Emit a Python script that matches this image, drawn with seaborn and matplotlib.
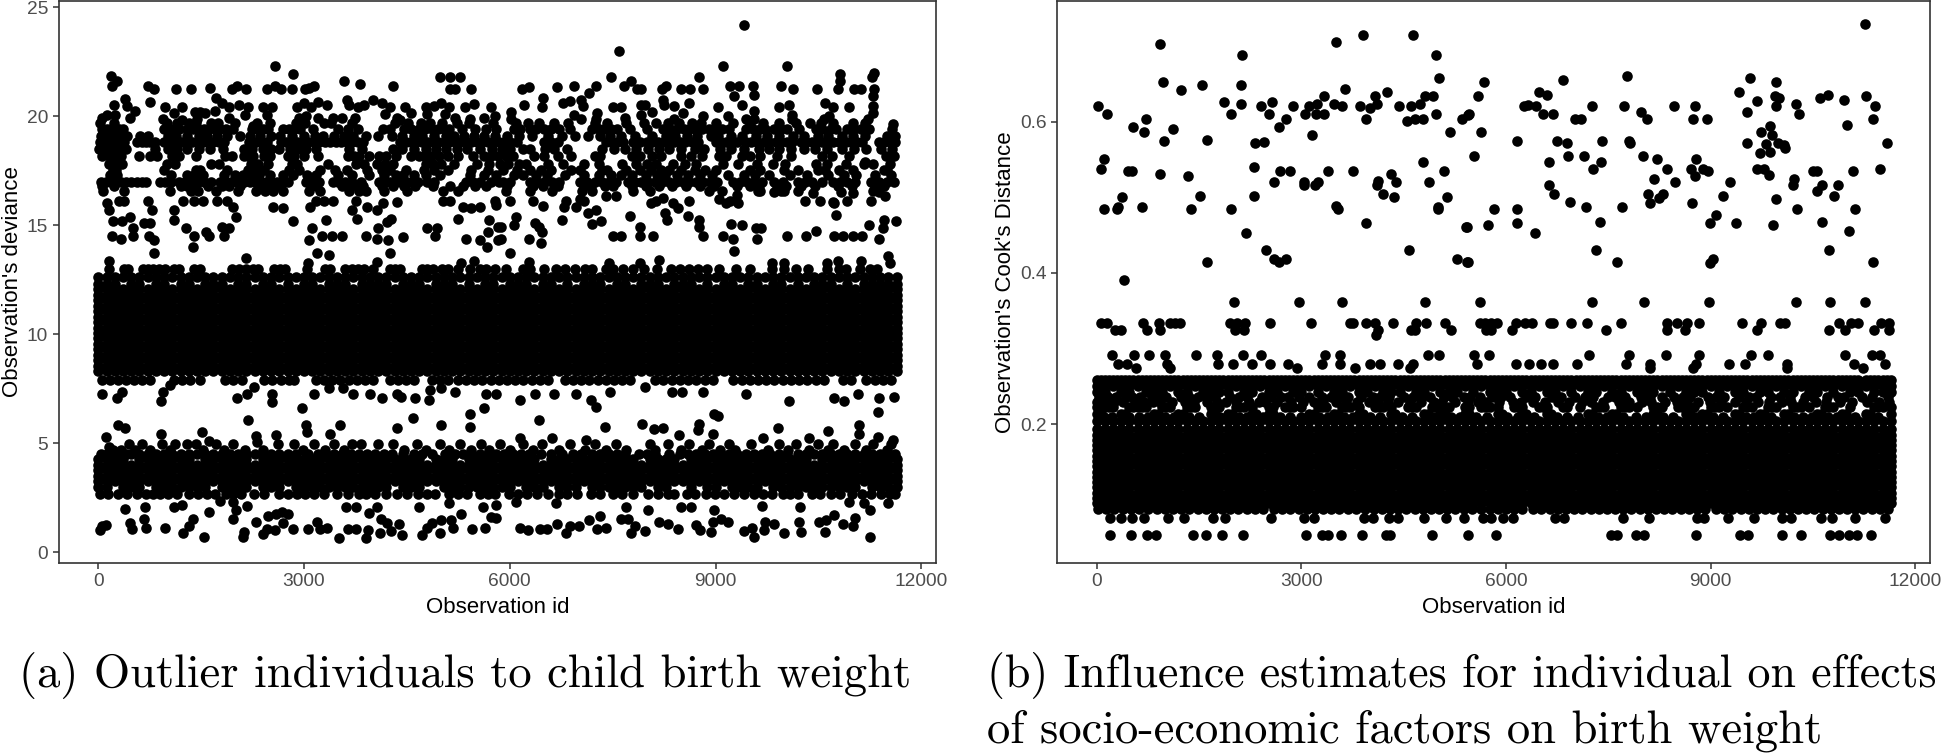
#!/usr/bin/env python3
"""Outlier and influence scatter panels for the birth weight model."""

import warnings

import matplotlib
matplotlib.use("Agg")  # non-interactive backend
import matplotlib.pyplot as plt
import pandas as pd
import seaborn as sns

warnings.filterwarnings("ignore")

# --- Shared ---------------------------------------------------------
x_ticks = [0, 3000, 6000, 9000, 12000]
dev_ticks = [0, 5, 10, 15, 20, 25]
cook_ticks = [0.2, 0.4, 0.6]

# The black bands cannot be read point by point, so they are stood in for
# by a column of ids repeated at each level that looks solid in the picture.
solid_ids = [
    0, 120, 240, 360, 480, 600, 720, 840, 960, 1080, 1200, 1320, 1440, 1560, 1680, 1800,
    1920, 2040, 2160, 2280, 2400, 2520, 2640, 2760, 2880, 3000, 3120, 3240, 3360, 3480,
    3600, 3720, 3840, 3960, 4080, 4200, 4320, 4440, 4560, 4680, 4800, 4920, 5040, 5160,
    5280, 5400, 5520, 5640, 5760, 5880, 6000, 6120, 6240, 6360, 6480, 6600, 6720, 6840,
    6960, 7080, 7200, 7320, 7440, 7560, 7680, 7800, 7920, 8040, 8160, 8280, 8400, 8520,
    8640, 8760, 8880, 9000, 9120, 9240, 9360, 9480, 9600, 9720, 9840, 9960, 10080, 10200,
    10320, 10440, 10560, 10680, 10800, 10920, 11040, 11160, 11280, 11400, 11520, 11640,
]
offset_ids = [
    60, 180, 300, 420, 540, 660, 780, 900, 1020, 1140, 1260, 1380, 1500, 1620, 1740, 1860,
    1980, 2100, 2220, 2340, 2460, 2580, 2700, 2820, 2940, 3060, 3180, 3300, 3420, 3540,
    3660, 3780, 3900, 4020, 4140, 4260, 4380, 4500, 4620, 4740, 4860, 4980, 5100, 5220,
    5340, 5460, 5580, 5700, 5820, 5940, 6060, 6180, 6300, 6420, 6540, 6660, 6780, 6900,
    7020, 7140, 7260, 7380, 7500, 7620, 7740, 7860, 7980, 8100, 8220, 8340, 8460, 8580,
    8700, 8820, 8940, 9060, 9180, 9300, 9420, 9540, 9660, 9780, 9900, 10020, 10140, 10260,
    10380, 10500, 10620, 10740, 10860, 10980, 11100, 11340, 11460, 11580,
]

# --- Panel (a): deviance --------------------------------------------
dev_solid_levels = [8.3, 8.55, 8.8, 9.05, 9.3, 9.55, 9.8, 10.05, 10.3, 10.55, 10.8, 11.05, 11.3, 11.55, 11.8, 12.05, 12.6]
dev_low_solid_levels = [3.25, 3.5, 3.75, 4.0]

dev_peaks = [
    (9421, 24.2), (7586, 23.0), (2578, 22.3), (9115, 22.3), (10042, 22.3), (2845, 21.95), (10814, 21.95),
    (11314, 22.0), (184, 21.85), (272, 21.6), (199, 21.4), (718, 21.4), (815, 21.25), (1126, 21.25),
    (1354, 21.25), (1631, 21.3), (1946, 21.25), (2029, 21.4), (2150, 21.25), (2456, 21.25), (2582, 21.4),
    (2665, 21.25), (2820, 21.25), (3014, 21.25), (3078, 21.3), (3145, 21.4), (3587, 21.6), (3815, 21.45),
    (4291, 21.4), (4990, 21.8), (5126, 21.8), (5276, 21.8), (5126, 21.25), (5199, 21.25), (5441, 21.25),
    (7469, 21.8), (8756, 21.8), (11280, 21.8), (7770, 21.6), (7659, 21.4), (7853, 21.25), (7916, 21.25),
    (8222, 21.25), (8280, 21.4), (8498, 21.25), (8630, 21.25), (8824, 21.25), (9212, 21.4), (9338, 21.4),
    (9542, 21.4), (9566, 20.95), (9275, 20.9), (9955, 21.4), (10125, 21.25), (10474, 21.25), (10780, 21.25),
    (10814, 21.6), (11022, 21.25), (11120, 21.25), (11314, 21.25), (6183, 21.25), (6280, 21.35), (6688, 21.35),
    (6935, 21.4), (7251, 21.4), (7154, 21.05), (7042, 20.75),
]
dev_upper = [
    (383, 20.8), (233, 20.5), (417, 20.45), (529, 20.25), (466, 19.9), (248, 20.05), (126, 20.05), (58, 19.9),
    (757, 20.65), (976, 20.4), (1097, 20.15), (1218, 20.4), (942, 19.85), (1218, 19.8), (1485, 20.2),
    (1413, 20.2), (1558, 20.15), (1437, 19.85), (1718, 20.85), (1801, 20.6), (1704, 20.25), (1912, 20.4),
    (1912, 19.9), (2058, 20.5), (2189, 20.4), (2141, 20.05), (2408, 20.4), (2539, 20.4), (2456, 20.05),
    (2262, 19.55), (2900, 20.4), (3000, 20.6), (3100, 20.4), (3200, 20.65), (3330, 20.5), (3030, 20.0),
    (2920, 19.9), (3200, 19.9), (3420, 19.9), (3550, 19.9), (3660, 20.5), (3780, 20.4), (3620, 20.75),
    (3750, 19.9), (3880, 20.5), (4000, 20.75), (4130, 20.6), (4250, 20.4), (4180, 20.1), (4350, 19.9),
    (4470, 20.4), (4560, 20.15), (4400, 19.8), (4780, 20.4), (4900, 20.45), (4800, 20.1), (5000, 20.6),
    (5120, 20.4), (5050, 20.1), (5200, 19.9), (5350, 20.4), (5420, 19.85), (5480, 20.55), (5620, 19.9),
    (5730, 20.4), (5790, 20.0), (6202, 20.5), (6489, 20.85), (6474, 20.4), (6023, 20.2), (6023, 19.85),
    (6775, 20.6), (6882, 20.7), (7067, 20.45), (6935, 20.05), (7042, 19.85), (7275, 20.15), (7261, 19.85),
    (7503, 20.4), (7625, 20.4), (7916, 20.5), (7974, 20.5), (8071, 20.2), (7916, 20.05), (7673, 19.9),
    (8241, 20.75), (8256, 20.5), (8401, 20.45), (8620, 20.6), (8523, 20.15), (8401, 19.85), (8814, 20.0),
    (9033, 20.4), (9178, 20.0), (9382, 20.5), (9566, 20.25), (9445, 19.85), (9566, 19.85), (10076, 20.5),
    (9921, 20.4), (10115, 20.05), (10115, 19.85), (10600, 20.6), (10707, 20.4), (10950, 20.4), (10658, 20.0),
    (10585, 19.85), (11290, 20.9), (11290, 20.45), (11290, 20.15), (11226, 19.85), (11590, 19.65),
]
dev_mid_sparse = [
    (160, 13.35), (806, 13.7), (2150, 13.5), (1378, 14.0), (3194, 13.7), (3369, 13.65), (4252, 13.7),
    (4068, 13.3), (5669, 14.0), (3063, 13.25), (5296, 13.25), (5475, 13.35), (199, 14.5), (330, 14.35),
    (500, 14.5), (733, 14.5), (806, 14.3), (1398, 14.5), (1621, 14.5), (1840, 14.5), (3078, 14.3), (3257, 14.5),
    (3403, 14.5), (3558, 14.5), (3898, 14.5), (4058, 14.35), (4218, 14.3), (4436, 14.45), (4907, 14.5),
    (5368, 14.35), (5568, 14.3), (5830, 14.3), (505, 14.85), (1277, 14.85), (1568, 14.7), (1801, 14.9),
    (1908, 14.85), (3112, 14.85), (4073, 14.85), (4796, 14.85), (4932, 14.85), (5684, 14.7), (5830, 14.9),
    (214, 15.2), (345, 15.2), (456, 15.38), (660, 15.1), (757, 15.1), (1107, 15.25), (2005, 15.38), (2835, 15.2),
    (3315, 15.25), (3767, 15.3), (4204, 15.15), (4262, 15.3), (5247, 15.3), (5694, 15.25), (126, 16.0),
    (160, 15.7), (296, 16.1), (781, 15.7), (1097, 15.7), (1971, 15.85), (2553, 15.85), (2699, 15.8), (3087, 15.85),
    (3694, 15.7), (3912, 15.85), (4058, 15.7), (5320, 15.85), (5441, 15.8), (5563, 15.85), (4349, 16.07),
    (4155, 16.0), (5805, 15.9), (6484, 15.87), (6785, 15.85), (6960, 15.85), (6761, 15.25), (6086, 15.35),
    (6057, 15.0), (6363, 15.1), (6426, 14.9), (6474, 14.7), (6280, 14.35), (6460, 14.2), (5999, 13.7), (6275, 13.3),
    (5877, 14.9), (5877, 14.35), (7139, 15.55), (7261, 15.7), (7333, 15.2), (7202, 15.05), (7756, 15.4),
    (7906, 14.9), (7503, 14.5), (7625, 14.5), (7892, 14.5), (8086, 14.5), (8265, 15.55), (8295, 15.25),
    (8595, 15.4), (8766, 15.25), (8766, 14.9), (8824, 14.5), (9115, 14.5), (9261, 14.35), (9227, 15.05),
    (9387, 15.0), (9265, 13.8), (9591, 14.85), (9663, 14.85), (9600, 14.35), (10042, 14.5), (10319, 14.5),
    (10464, 14.75), (10756, 15.45), (10722, 16.0), (10731, 14.5), (10853, 14.5), (10998, 14.5), (11134, 14.5),
    (11231, 15.0), (11435, 14.85), (11459, 15.25), (11629, 15.2), (11377, 14.35), (11508, 13.6), (11542, 13.25),
    (8183, 13.4), (7892, 13.25), (7445, 13.25), (9819, 13.25), (10003, 13.25), (10620, 13.25), (11120, 13.35),
    (10780, 13.35), (8062, 16.0), (8231, 16.25), (8377, 16.0), (8450, 15.8), (9057, 16.2), (9154, 16.0),
    (9324, 16.0), (9309, 16.4), (7406, 16.35), (7552, 16.35), (7024, 16.2), (9858, 16.5), (9955, 16.55),
    (10416, 16.45), (10707, 16.05), (10829, 16.5), (10998, 16.45), (11387, 16.5), (11474, 16.35), (9615, 16.55),
    (11178, 17.9),
]
dev_gap = [
    (53, 7.23), (272, 7.05), (345, 7.36), (913, 6.93), (937, 7.36), (1048, 7.66), (2019, 7.05), (2165, 7.23),
    (2272, 7.59), (2539, 7.23), (2539, 6.9), (2966, 6.62), (3145, 7.23), (3364, 7.51), (3573, 7.51), (3718, 7.23),
    (3961, 7.23), (4140, 7.05), (4349, 7.23), (4412, 7.1), (4616, 7.05), (4820, 6.97), (4834, 7.43), (5004, 7.51),
    (5208, 7.36), (5660, 7.23), (5805, 7.23), (5621, 6.62), (5417, 6.33), (5427, 5.75), (4582, 6.13), (4359, 5.7),
    (4995, 5.83), (2179, 6.06), (286, 5.83), (393, 5.7), (3524, 5.83), (3029, 5.83), (2592, 5.37), (3378, 5.4),
    (3039, 5.49), (2301, 5.34), (2311, 5.06), (1510, 5.49), (918, 5.41), (117, 5.26), (155, 4.8), (1621, 5.11),
    (6144, 6.97), (6363, 7.23), (6644, 7.23), (6960, 7.23), (7188, 6.97), (7261, 6.64), (7465, 7.36), (7979, 7.59),
    (8362, 7.36), (8513, 7.36), (8824, 7.36), (9445, 7.23), (10076, 6.93), (10722, 7.05), (10877, 6.93),
    (11071, 7.23), (11387, 7.05), (11605, 7.13), (11362, 6.44), (6421, 6.06), (7382, 5.75), (7926, 5.86),
    (8984, 6.33), (9032, 6.24), (8756, 5.86), (8110, 5.63), (8231, 5.71), (9906, 5.71), (10634, 5.55),
    (11095, 5.83), (11086, 5.41), (11362, 5.29), (11590, 5.14), (9688, 5.22), (6154, 5.22), (6620, 5.25),
    (7105, 5.14), (8474, 5.37), (10367, 5.25), (8960, 5.41), (8741, 5.6),
]
dev_bottom = [
    (393, 2.0), (684, 2.08), (1097, 2.08), (1218, 2.16), (1777, 2.36), (1971, 2.31), (2010, 1.93), (1971, 1.52),
    (2165, 2.13), (1621, 1.85), (1388, 1.52), (1330, 1.2), (1233, 0.86), (1544, 0.7), (660, 1.52), (699, 1.12),
    (456, 1.32), (490, 1.06), (976, 1.12), (19, 1.01), (53, 1.2), (117, 1.24), (2131, 0.9), (2116, 0.7), (2301, 1.36),
    (2471, 1.67), (2592, 1.75), (2684, 1.85), (2772, 1.75), (2689, 1.32), (2408, 0.81), (2456, 1.04), (2577, 1.0),
    (2835, 1.06), (3063, 1.06), (3184, 1.36), (3233, 1.04), (3330, 1.09), (3510, 0.63), (3636, 1.06), (3757, 1.06),
    (3903, 0.63), (3937, 1.0), (4106, 0.86), (3607, 2.08), (3752, 2.08), (3946, 1.78), (4058, 2.08), (4121, 1.52),
    (4204, 1.32), (4262, 0.98), (4383, 1.29), (4432, 0.78), (4679, 2.08), (4723, 0.78), (4786, 1.09), (4873, 1.35),
    (5004, 1.47), (5136, 1.47), (4980, 0.89), (5174, 1.09), (5296, 1.75), (5111, 2.24), (5456, 1.06), (5635, 1.09),
    (5733, 1.59), (5805, 1.55), (5611, 2.08), (5805, 2.16), (6154, 1.12), (6266, 1.0), (6435, 1.04), (6547, 1.06),
    (6693, 1.27), (6824, 0.86), (6882, 1.2), (7008, 1.2), (7154, 1.47), (7309, 1.67), (7270, 1.04), (7406, 1.12),
    (7625, 1.52), (7722, 1.52), (7770, 0.86), (7819, 1.2), (7979, 0.98), (8173, 1.36), (8304, 1.27), (8450, 1.04),
    (8717, 1.24), (8780, 1.0), (8935, 0.93), (8960, 1.36), (9081, 1.52), (9178, 1.39), (9421, 0.98), (9532, 1.09),
    (9566, 0.7), (9712, 1.0), (9722, 1.39), (9858, 1.27), (10003, 0.86), (10222, 1.39), (10246, 0.93), (10513, 1.36),
    (10610, 1.47), (10600, 0.9), (10722, 1.7), (10853, 1.27), (10998, 1.21), (11032, 1.58), (11255, 0.7),
    (7688, 2.08), (8013, 1.93), (8498, 2.08), (8644, 2.08), (8974, 1.93), (9673, 2.11), (10236, 2.08), (11255, 1.93),
    (11168, 2.24), (11508, 2.24), (10950, 2.31), (6678, 2.24), (6086, 2.28),
]

# deviance takes near-discrete values, so the busy rows are kept by level
dev_row_197 = [
    30, 230, 1000, 1150, 1330, 1420, 1640, 1750, 2000, 2310, 2510, 2880, 3010, 3290, 3400, 3700, 4320, 4520, 4700, 4830,
    5010, 5230, 5400, 5760, 6090, 6260, 6420, 6640, 6850, 7240, 7420, 7690, 7960, 8130, 8300, 8470, 8660, 8790, 9000,
    9250, 9510, 9690, 9930, 10180, 10380, 10540, 10720, 11000, 11180,
]
dev_row_194 = [
    60, 120, 180, 240, 300, 360, 960, 1040, 1100, 1180, 1300, 1380, 1460, 1540, 1620, 1700, 1780, 1860, 1960, 2240,
    2320, 2400, 2480, 2700, 2780, 2860, 2940, 3130, 3500, 3640, 3780, 4150, 4250, 4460, 4560, 4680, 4760, 4860, 4950,
    5040, 5120, 5300, 5500, 5650, 5800, 6060, 6150, 6300, 6380, 6500, 6600, 6720, 6880, 7200, 7300, 7380, 7480, 7560,
    7750, 8000, 8240, 8340, 8440, 8540, 8620, 8700, 8800, 8900, 9000, 9100, 9200, 9450, 9550, 9650, 9720, 9860, 9960,
    10040, 10220, 10470, 10560, 10680, 10760, 10920, 11020, 11120, 11240, 11580,
]
dev_row_191 = [
    40, 150, 290, 420, 610, 730, 1010, 1130, 1290, 1470, 1590, 1730, 1880, 2060, 2210, 2360, 2520, 2650, 2830, 3000, 3160,
    3280, 3440, 3580, 3720, 3900, 4080, 4290, 4430, 4600, 4720, 4900, 5070, 5190, 5330, 5480, 5620, 5780, 5960, 6130, 6320,
    6560, 6760, 6950, 7140, 7310, 7460, 7620, 7830, 8070, 8280, 8410, 8590, 8730, 8930, 9040, 9230, 9390, 9590, 9750, 9930,
    10130, 10290, 10500, 10640, 10850, 11000, 11180, 11500, 11610,
]
dev_row_188 = [
    20, 70, 120, 180, 260, 330, 380, 560, 640, 700, 760, 820, 960, 1040, 1120, 1200, 1280, 1360, 1440, 1520, 1600, 1680,
    1760, 1840, 2200, 2300, 2380, 2460, 2660, 2740, 2820, 2900, 2980, 3060, 3140, 3220, 3300, 3380, 3460, 3540, 3620,
    3700, 3780, 3860, 4400, 4480, 4560, 4640, 4720, 4800, 4880, 4960, 5040, 5120, 5200, 5280, 5360, 5440, 5520, 5600,
    5680, 5760, 5840, 5920, 6000, 6100, 6500, 6600, 6700, 7400, 7480, 7560, 7650, 7800, 7900, 8000, 8080, 8160, 8240,
    8320, 8400, 8480, 8560, 8660, 8740, 9000, 9080, 9160, 9240, 9320, 9440, 9520, 9600, 9700, 9780, 9880, 9960, 10040,
    10120, 10240, 10320, 10400, 10480, 10560, 10640, 10720, 10800, 10900, 10980, 11060, 11140, 11380, 11460, 11540, 11620,
]
dev_row_185 = [
    10, 90, 210, 310, 400, 830, 1020, 1150, 1300, 1470, 1630, 1820, 2130, 2240, 2400, 2520, 2640, 2790, 2910, 3030, 3180, 3650,
    3850, 4300, 4430, 4600, 4780, 4920, 5070, 5230, 5380, 5570, 5740, 5880, 6010, 6200, 6300, 6520, 6650, 6830, 7350, 7520,
    7680, 7840, 8010, 8170, 8320, 8500, 8700, 8830, 9060, 9220, 9410, 9630, 9780, 9930, 10100, 10290, 10450, 10620, 10840,
    11020, 11200, 11420, 11570,
]
dev_row_182 = [
    50, 150, 250, 330, 600, 750, 850, 1080, 1180, 1420, 1850, 1950, 2120, 2180, 2260, 2420, 2500, 2760, 2860, 3000, 3200,
    3640, 3730, 3800, 3950, 4100, 4200, 4340, 4560, 4680, 4750, 4850, 4970, 5100, 5250, 5460, 5620, 5720, 5830, 5940,
    6040, 6350, 6500, 6700, 6900, 7250, 7320, 7780, 7900, 8080, 8200, 8500, 8640, 8800, 9050, 9150, 9380, 9500, 9650,
    9900, 10100, 10560, 10700, 10950, 11480, 11600,
]
dev_row_178 = [
    150, 260, 350, 1000, 1120, 1640, 1760, 2230, 2330, 2470, 2820, 2900, 3350, 3760, 3880, 4060, 4180, 4300, 4780, 4880, 5000,
    5180, 5520, 5700, 5860, 5980, 6140, 6240, 6560, 6780, 7080, 7300, 7640, 7840, 8000, 8130, 8380, 8560, 8720, 9110, 9330,
    9600, 9840, 10020, 10460, 10620, 10900, 11170, 11300, 11540,
]
dev_row_175 = [
    220, 260, 960, 1430, 1480, 1880, 2180, 2280, 2420, 2780, 2920, 3240, 3450, 3620, 3920, 4130, 4260, 4480, 4750, 4900,
    5100, 5440, 5680, 5900, 6100, 6300, 6450, 6600, 6900, 7020, 7350, 7420, 7700, 7900, 8060, 8200, 8320, 8500, 8700,
    8850, 9000, 9500, 9650, 10000, 10200, 10500, 10600, 10800, 11000, 11450, 11500,
]
dev_row_173 = [
    170, 270, 1060, 1290, 1400, 1520, 1830, 1990, 2110, 2240, 2350, 2500, 2700, 2840, 3040, 3170, 3500, 3700, 3950, 4160, 4340,
    4450, 4600, 4780, 4980, 5420, 5620, 5800, 6060, 6200, 6380, 6540, 6800, 7080, 7300, 7480, 7620, 7780, 7980, 8140, 8260,
    8440, 8600, 8780, 8950, 9180, 9420, 9580, 9780, 10080, 10340, 10640, 10870, 11050, 11330, 11560,
]
dev_row_170 = [
    40, 110, 180, 260, 330, 410, 480, 560, 640, 700, 900, 980, 1060, 1180, 1260, 1340, 1460, 1540, 1640, 1780, 1860, 1940,
    2020, 2130, 2210, 2290, 2370, 2450, 2530, 2610, 2690, 2770, 3030, 3130, 3220, 3420, 3500, 3600, 3700, 3830, 4100, 4180,
    4260, 4340, 4420, 4500, 4580, 4660, 4800, 4900, 5360, 5460, 5560, 5720, 5840, 5900, 6000, 6290, 6400, 6500, 6620, 6720,
    7020, 7120, 7240, 7340, 7450, 7550, 7720, 7820, 7920, 8020, 8120, 8220, 8320, 8420, 8520, 8620, 8720, 8820, 8920, 9020,
    9260, 9360, 9460, 9560, 9680, 9860, 9980, 10200, 10300, 10400, 10560, 10720, 10820, 10920, 11040, 11260, 11380, 11500, 11600,
]
dev_row_168 = [
    60, 230, 1200, 1290, 1400, 1600, 1810, 1900, 2070, 2340, 2480, 2640, 3100, 3180, 3560, 3640, 3770, 3860, 4140, 4300, 4460,
    4620, 4880, 5130, 5320, 5500, 5660, 5960, 6340, 6480, 6700, 7080, 7180, 7390, 7500, 7780, 7980, 8180, 8370, 8570, 8780,
    8980, 9310, 9510, 9630, 9900, 10030, 10250, 10450, 10780, 10990, 11320, 11450,
]
dev_row_165 = [
    70, 380, 1050, 1350, 1450, 1720, 2040, 2300, 2430, 2550, 2700, 3070, 3240, 3650, 3800, 3900, 4160, 4500, 5020, 5250,
    5950, 6300, 6620, 7050, 7200, 7800, 8050, 8900, 9100, 9650, 10000, 10200, 11300,
]
dev_row_161 = [
    380, 730, 1230, 1400, 1520, 1730, 1880, 3170, 3290, 3420, 3760, 5020, 5130, 5790, 6000, 6340, 6820, 7080, 8130, 8620, 9210,
    10300, 10530, 10920, 11260,
]
dev_row_130 = [
    160, 370, 430, 650, 720, 800, 880, 980, 1100, 1180, 1400, 1480, 1950, 2050, 2150, 2250, 2330, 2560, 2650, 2720, 3050,
    3300, 3380, 3600, 3700, 3780, 3880, 4000, 4250, 4320, 4400, 4720, 4800, 4880, 5010, 5100, 5250, 5420, 5560, 5650, 5780,
    5950, 6200, 6300, 6500, 6680, 6800, 6950, 7100, 7200, 7400, 7500, 7650, 7800, 7950, 8150, 8350, 8480, 8620, 8750, 8880,
    9050, 9300, 9500, 9820, 10000, 10180, 10350, 10620, 10800, 10900, 11100, 11250, 11350,
]
dev_row_123 = [
    0, 120, 240, 480, 600, 840, 960, 1200, 1320, 1560, 1680, 1800, 2040, 2160, 2400, 2520, 2760, 3000, 3120, 3360, 3480,
    3600, 3840, 3960, 4080, 4200, 4440, 4560, 4680, 4920, 5040, 5160, 5400, 5640, 5760, 6000, 6120, 6240, 6480, 6600, 6840,
    7080, 7200, 7320, 7560, 7680, 7920, 8040, 8160, 8400, 8520, 8640, 8880, 9120, 9240, 9480, 9600, 9840, 9960, 10200, 10440,
    10560, 10680, 10920, 11160, 11280, 11400, 11520, 11640,
]
dev_row_79 = [
    50, 170, 290, 410, 520, 640, 760, 1100, 1220, 1340, 1480, 1850, 1970, 2090, 2420, 2540, 2660, 2780, 2860, 3170, 3290,
    3410, 3530, 3650, 3770, 3890, 4010, 4250, 4370, 4490, 4610, 4860, 4980, 5100, 5240, 5360, 5480, 5600, 5720, 5840, 5960,
    6080, 6200, 6320, 6440, 6560, 6800, 6920, 7040, 7160, 7280, 7400, 7520, 7640, 7760, 8120, 8240, 8360, 8480, 8600, 8720,
    8840, 8960, 9260, 9380, 9500, 9620, 9740, 9860, 9980, 10100, 10220, 10340, 10460, 10580, 10860, 10980, 11200, 11320, 11440, 11560,
]
dev_row_495 = [
    450, 640, 930, 1120, 1290, 1420, 1720, 1960, 2620, 2860, 3150, 3440, 3700, 3830, 4080, 4300, 4650, 4980, 5280, 5580, 5860,
    6200, 6470, 6880, 7240, 7550, 8050, 8300, 8620, 8900, 9200, 9520, 9920, 10180, 10500, 10720, 11030, 11300, 11560,
]
dev_row_470 = [
    210, 330, 530, 760, 1040, 1530, 1840, 2140, 2400, 2980, 3300, 3580, 4460, 4780, 5120, 5440, 5700, 6010, 6340, 6720, 7100,
    7400, 7700, 8120, 8490, 8800, 9070, 9290, 9770, 10050, 10360, 10640, 10870, 11200, 11500,
]
dev_row_450 = [
    40, 120, 200, 300, 400, 480, 600, 720, 840, 960, 1080, 1200, 1320, 1440, 1560, 1680, 1800, 1920, 2040, 2160, 2280,
    2400, 2520, 2640, 2760, 2880, 3060, 3200, 3320, 3440, 3560, 3680, 3800, 3920, 4040, 4160, 4280, 4440, 4600, 4720, 4860,
    5050, 5200, 5320, 5440, 5560, 5680, 5800, 5920, 6040, 6160, 6280, 6460, 6600, 6760, 6920, 7040, 7200, 7320, 7440, 7560,
    7680, 7880, 8000, 8120, 8320, 8480, 8600, 8720, 8840, 8960, 9080, 9200, 9320, 9440, 9560, 9680, 9800, 9920, 10040, 10200,
    10320, 10440, 10560, 10680, 10800, 10920, 11040, 11160, 11280, 11400, 11520, 11620,
]
dev_row_425 = [
    0, 120, 240, 360, 600, 720, 840, 960, 1080, 1200, 1320, 1560, 1680, 1800, 1920, 2040, 2160, 2400, 2520, 2640, 2760, 2880,
    3000, 3120, 3240, 3360, 3480, 3600, 3720, 3840, 3960, 4080, 4200, 4320, 4440, 4560, 4680, 4920, 5040, 5160, 5400, 5520,
    5640, 5760, 5880, 6000, 6120, 6240, 6360, 6600, 6720, 6840, 6960, 7080, 7200, 7320, 7440, 7560, 7680, 7800, 8040, 8160,
    8280, 8400, 8640, 8760, 8880, 9000, 9120, 9240, 9360, 9480, 9600, 9720, 9840, 9960, 10080, 10200, 10320, 10560, 10680,
    10800, 10920, 11040, 11160, 11280, 11400, 11520, 11640,
]
dev_row_300 = [
    0, 120, 360, 480, 600, 840, 960, 1080, 1200, 1320, 1440, 1560, 1800, 1920, 2040, 2160, 2400, 2520, 2640, 2880, 3000, 3120,
    3240, 3360, 3480, 3600, 3720, 3840, 3960, 4080, 4200, 4440, 4560, 4680, 5040, 5160, 5280, 5400, 5520, 5640, 5760, 5880,
    6000, 6240, 6360, 6480, 6720, 6840, 6960, 7200, 7320, 7440, 7560, 7680, 7800, 7920, 8160, 8280, 8640, 8880, 9000, 9240,
    9360, 9480, 9600, 9840, 9960, 10080, 10200, 10320, 10440, 10560, 10680, 10800, 10920, 11040, 11280, 11400, 11520, 11640,
]
dev_row_265 = [
    20, 140, 290, 420, 560, 700, 800, 900, 1010, 1150, 1330, 1450, 1580, 1700, 1860, 1960, 2080, 2270, 2420, 2640, 2760, 2900,
    3020, 3150, 3290, 3480, 3640, 3800, 3900, 4030, 4190, 4350, 4500, 4660, 4790, 4910, 5110, 5250, 5370, 5560, 5680, 5780,
    5990, 6120, 6250, 6400, 6560, 6720, 6840, 6980, 7190, 7310, 7500, 7640, 7790, 8020, 8160, 8300, 8400, 8590, 8700, 8860,
    8990, 9130, 9270, 9420, 9560, 9690, 9830, 9990, 10090, 10200, 10400, 10530, 10680, 10820, 10990, 11130, 11270, 11420, 11540, 11620,
]

# --- Panel (b): Cook's distance -------------------------------------
cook_solid_levels = [0.095, 0.102, 0.109, 0.116, 0.123, 0.13, 0.137, 0.144, 0.151, 0.158, 0.165, 0.172, 0.179, 0.186, 0.193, 0.204, 0.250, 0.258]

cook_upper = [
    (25, .621), (157, .610), (113, .551), (59, .538), (465, .535), (513, .535), (528, .593), (718, .604), (699, .586),
    (377, .500), (308, .487), (294, .485), (108, .485), (660, .487), (401, .390), (928, .703), (972, .653), (1236, .642),
    (1544, .649), (1114, .591), (982, .575), (924, .531), (1339, .528), (1509, .502), (1387, .485), (1617, .576), (1622, .415),
    (2135, .688), (2120, .649), (2120, .623), (1861, .626), (1968, .610), (1968, .485), (2305, .540), (2305, .502), (2183, .453),
    (2325, .572), (2452, .574), (2408, .621), (2525, .610), (2569, .626), (2681, .593), (2769, .604), (2877, .621), (2598, .521),
    (2686, .535), (2838, .535), (2481, .430), (2598, .418), (2681, .415), (2774, .418), (3057, .610), (3111, .621), (3233, .623),
    (3326, .634), (3209, .610), (3326, .610), (3155, .582), (3038, .521), (3038, .516), (3199, .516), (3238, .521), (3385, .535),
    (3477, .624), (3604, .621), (3507, .706), (3639, .643), (3902, .715), (3868, .621), (3946, .604), (4005, .619), (4112, .624),
    (4083, .634), (4263, .639), (4434, .621), (3751, .535), (3507, .488), (3536, .485), (3946, .466), (4132, .522), (4112, .516),
    (4200, .505), (4317, .531), (4385, .521), (4366, .500), (4635, .715), (4981, .689), (5015, .658), (4932, .634), (4810, .634),
    (4737, .623), (4615, .621), (4557, .601), (4664, .604), (4786, .604), (4981, .610), (5181, .587), (5352, .604), (5445, .609),
    (4786, .547), (5089, .535), (4879, .521), (5132, .500), (5006, .487), (5006, .484), (4586, .430), (5421, .461), (5289, .418),
    (5431, .415), (11261, .729), (6837, .656), (7770, .661), (9572, .658), (9953, .653), (5675, .653), (5597, .634), (6491, .639),
    (6608, .636), (6261, .621), (6325, .622), (6437, .621), (6545, .610), (6696, .610), (7008, .604), (7106, .604), (7267, .621),
    (7731, .621), (7985, .613), (8068, .604), (8459, .621), (8766, .621), (8747, .604), (8952, .604), (9416, .639), (9679, .628),
    (9938, .634), (10002, .632), (9963, .621), (9528, .613), (10251, .623), (10300, .610), (10607, .632), (10719, .635), (10954, .629),
    (11276, .634), (11403, .621), (11384, .604), (10998, .596), (11589, .572), (11481, .538), (5460, .610), (5631, .587), (6164, .575),
    (5539, .555), (6754, .575), (6896, .572), (6906, .555), (6628, .547), (7145, .555), (7409, .575), (7394, .547), (7277, .537),
    (7799, .575), (7814, .572), (8009, .555), (8219, .551), (8361, .538), (8175, .524), (8478, .521), (8781, .551), (8717, .538),
    (8893, .538), (8966, .535), (8766, .528), (9289, .521), (9181, .502), (9733, .587), (9875, .594), (9894, .582), (9816, .571),
    (9987, .572), (10075, .570), (10094, .566), (9528, .572), (9728, .559), (9870, .560), (9684, .538), (9777, .538), (9850, .529),
    (10217, .525), (10212, .516), (10500, .535), (10564, .535), (11090, .535), (10637, .517), (10564, .509), (10871, .516), (10812, .502),
    (9958, .498), (10265, .485), (11110, .485), (6628, .516), (6701, .505), (6945, .494), (7170, .487), (7707, .487), (7384, .468),
    (8083, .505), (8307, .505), (8244, .499), (8117, .493), (8727, .493), (5832, .485), (6159, .485), (6164, .466), (5734, .464),
    (5436, .461), (6422, .453), (9079, .477), (8996, .466), (9367, .466), (9919, .464), (10631, .468), (11032, .456), (7316, .430),
    (10729, .430), (7629, .415), (5441, .415), (9035, .418), (8991, .413), (11374, .415), (4092, .318),
]

cook_row_362 = [2007, 2965, 3604, 4820, 5622, 7262, 8019, 8976, 10246, 10749, 11261]
cook_row_334 = [
    64, 147, 684, 919, 1075, 1148, 1221, 1954, 2052, 2174, 2540, 3150, 3712, 3761, 3956, 4078, 4351, 4688, 4830, 5113,
    5617, 5690, 5788, 5871, 6154, 6286, 6383, 6642, 6691, 6960, 7194, 7687, 8366, 8508, 8659, 8835, 9455, 9738, 10011,
    10085, 10876, 11061, 11159, 11501, 11608,
]
cook_row_325 = [
    269, 352, 733, 933, 2027, 2159, 4127, 4615, 4664, 5201, 5714, 5788, 6090, 7463, 8366, 8629, 9679, 10729, 10964, 11393, 11613,
]
cook_row_291 = [
    222, 552, 775, 998, 1453, 1765, 2140, 2407, 3344, 3567, 4860, 5021, 5530, 5752, 7224, 7804, 8339, 8830, 9589, 9838,
    10970, 11372, 11479,
]
cook_row_280 = [
    310, 445, 1025, 1783, 2006, 2274, 2541, 2809, 3299, 3567, 4013, 4147, 4414, 4637, 5574, 6154, 6332, 6511, 6689, 7046,
    7759, 8116, 8785, 9276, 9499, 10123, 11105, 11551,
]
cook_row_274 = [579, 1069, 2943, 3791, 4593, 8116, 8740, 10123, 11238]
cook_row_242 = [
    0, 120, 360, 480, 720, 840, 960, 1200, 1320, 1560, 1680, 1800, 1920, 2160, 2280, 2520, 2640, 2880, 3000, 3240, 3480,
    3600, 3840, 3960, 4200, 4320, 4440, 4680, 4800, 5040, 5160, 5280, 5520, 5760, 5880, 6000, 6240, 6360, 6600, 6720,
    6960, 7200, 7320, 7560, 7680, 7920, 8040, 8160, 8400, 8640, 8760, 8880, 9120, 9360, 9480, 9720, 9840, 10080, 10200,
    10440, 10560, 10800, 11040, 11160, 11400, 11520, 11640,
]
cook_row_236 = [
    40, 170, 290, 430, 520, 640, 810, 900, 1020, 1240, 1360, 1490, 1600, 1730, 1960, 2090, 2210, 2420, 2560, 2700, 2810, 2960,
    3120, 3300, 3440, 3570, 3690, 3880, 4050, 4150, 4290, 4510, 4640, 4770, 4890, 5090, 5210, 5380, 5480, 5620, 5800, 5930,
    6060, 6290, 6420, 6680, 6800, 7010, 7160, 7280, 7490, 7600, 7740, 7980, 8110, 8290, 8460, 8590, 8700, 8960, 9080, 9200,
    9410, 9560, 9660, 9890, 10020, 10160, 10380, 10500, 10700, 10860, 10960, 11220, 11360, 11600,
]
cook_row_229 = [
    10, 130, 260, 390, 560, 700, 830, 930, 1110, 1290, 1430, 1620, 1770, 1900, 2050, 2240, 2380, 2470, 2650, 2850, 3030, 3190,
    3320, 3510, 3650, 3810, 3990, 4130, 4270, 4420, 4590, 4750, 4940, 5060, 5250, 5440, 5590, 5710, 5900, 6110, 6220, 6390,
    6570, 6760, 6920, 7110, 7240, 7420, 7650, 7800, 7990, 8130, 8330, 8510, 8660, 8820, 8990, 9150, 9350, 9520, 9690, 9850,
    10040, 10180, 10350, 10540, 10690, 10890, 11070, 11290, 11470, 11620,
]
cook_row_222 = [
    0, 60, 120, 180, 240, 480, 540, 600, 660, 720, 960, 1020, 1080, 1320, 1380, 1440, 1680, 1740, 1800, 2040, 2100, 2160, 2280,
    2520, 2580, 2760, 2820, 2880, 3000, 3240, 3300, 3360, 3600, 3660, 3720, 3840, 4080, 4140, 4200, 4320, 4560, 4620, 4680, 4920,
    4980, 5040, 5160, 5400, 5460, 5640, 5700, 5760, 5880, 6120, 6180, 6240, 6480, 6540, 6600, 6840, 6900, 7080, 7320, 7380, 7440,
    7680, 7740, 7800, 7920, 8160, 8220, 8280, 8520, 8580, 8640, 8760, 9000, 9060, 9120, 9240, 9480, 9540, 9600, 9840, 9900, 9960,
    10200, 10260, 10320, 10440, 10680, 10740, 10800, 11040, 11400, 11460, 11520, 11640,
]
cook_row_213 = [
    0, 60, 360, 420, 840, 900, 1200, 1260, 1680, 1740, 1920, 1980, 2280, 2340, 2520, 2580, 3120, 3180, 3480, 3540, 3840, 3900, 4320,
    4380, 4800, 4860, 5040, 5100, 5400, 5460, 5880, 5940, 6240, 6300, 6600, 6660, 7200, 7260, 7560, 7620, 8160, 8220, 8640, 8700,
    8880, 8940, 9360, 9420, 9720, 9780, 10080, 10140, 10560, 10620, 10920, 10980, 11280, 11340, 11640,
]
cook_row_209 = [
    110, 230, 480, 620, 760, 1010, 1130, 1350, 1500, 1810, 2090, 2210, 2440, 2690, 2830, 2990, 3260, 3390, 3620, 3760, 4010, 4150,
    4480, 4630, 4950, 5190, 5320, 5560, 5720, 6020, 6170, 6410, 6750, 6900, 7060, 7350, 7480, 7720, 7900, 8050, 8300, 8450, 8780,
    9030, 9180, 9520, 9640, 9890, 10220, 10350, 10480, 10720, 10850, 11120, 11450,
]
cook_row_088 = [
    20, 140, 260, 380, 500, 620, 760, 880, 1000, 1120, 1240, 1360, 1480, 1600, 1720, 1840, 1960, 2080, 2200, 2320, 2440, 2600, 2720,
    2840, 2960, 3080, 3200, 3320, 3440, 3560, 3680, 3800, 3940, 4060, 4180, 4300, 4420, 4540, 4660, 4780, 4900, 5020, 5140, 5260,
    5380, 5500, 5640, 5760, 5880, 6000, 6120, 6240, 6400, 6520, 6640, 6760, 6880, 7000, 7120, 7240, 7360, 7480, 7600, 7720, 7840,
    7960, 8080, 8200, 8320, 8440, 8560, 8680, 8800, 8920, 9080, 9200, 9320, 9440, 9560, 9680, 9800, 9920, 10040, 10160, 10280, 10400,
    10520, 10640, 10760, 10880, 11000, 11120, 11240, 11360, 11480, 11600,
]
cook_row_076 = [
    190, 360, 520, 700, 1040, 1280, 1700, 1880, 2560, 3040, 3180, 3920, 4050, 4280, 4420, 4800, 5120, 5390, 5660, 5780, 5960,
    6100, 6720, 6850, 7720, 8100, 8800, 8900, 9260, 9640, 10040, 10180, 10620, 10780, 11120, 11560,
]
cook_row_053 = [
    195, 507, 739, 864, 1408, 1605, 1837, 2149, 3076, 3299, 3389, 3585, 3897, 4236, 4307, 4914, 5440, 5859, 7536, 7626,
    7911, 8027, 8785, 9427, 9543, 10043, 10319, 10748, 10882, 11033, 11149, 11354,
]


def row_points(ids, level):
    """Pair a row of observation ids with the value they share."""
    return [(i, level) for i in ids]


def build_frame(pairs):
    return pd.DataFrame(pairs, columns=["obs_id", "value"])


dev_pairs = dev_peaks + dev_upper + dev_mid_sparse + dev_gap + dev_bottom
for lvl in dev_solid_levels + dev_low_solid_levels:
    dev_pairs = dev_pairs + row_points(solid_ids, lvl)
for ids, lvl in [
    (dev_row_197, 19.7), (dev_row_194, 19.4), (dev_row_191, 19.1), (dev_row_188, 18.8), (dev_row_185, 18.5),
    (dev_row_182, 18.15), (dev_row_178, 17.8), (dev_row_175, 17.55), (dev_row_173, 17.3), (dev_row_170, 17.0),
    (dev_row_168, 16.8), (dev_row_165, 16.55), (dev_row_161, 16.1), (dev_row_130, 13.0), (dev_row_123, 12.3),
    (dev_row_79, 7.9), (dev_row_495, 4.95), (dev_row_470, 4.7), (dev_row_450, 4.5), (dev_row_425, 4.25),
    (dev_row_300, 3.0), (dev_row_265, 2.65),
]:
    dev_pairs = dev_pairs + row_points(ids, lvl)

cook_pairs = list(cook_upper) + row_points(offset_ids, 0.258)
for lvl in cook_solid_levels:
    cook_pairs = cook_pairs + row_points(solid_ids, lvl)
for ids, lvl in [
    (cook_row_362, 0.362), (cook_row_334, 0.334), (cook_row_325, 0.325), (cook_row_291, 0.291), (cook_row_280, 0.280),
    (cook_row_274, 0.274), (cook_row_242, 0.242), (cook_row_236, 0.236), (cook_row_229, 0.229), (cook_row_222, 0.222),
    (cook_row_213, 0.213), (cook_row_209, 0.209), (cook_row_088, 0.088), (cook_row_076, 0.076), (cook_row_053, 0.053),
]:
    cook_pairs = cook_pairs + row_points(ids, lvl)

sns.set_theme(style="white")
plt.rcParams["font.family"] = ["Liberation Sans", "DejaVu Sans"]

FIG_W, FIG_H = 1945, 753
fig = plt.figure(figsize=(FIG_W / 100, FIG_H / 100), dpi=100)


def add_panel(left, right, top, bottom):
    return fig.add_axes([left / FIG_W, 1 - bottom / FIG_H, (right - left) / FIG_W, (bottom - top) / FIG_H])


def draw_panel(ax, pairs, y_ticks, y_labels, ylim, ylabel):
    sns.scatterplot(data=build_frame(pairs), x="obs_id", y="value", color="black", s=58, linewidth=0, legend=False, ax=ax)
    ax.set_xlim(-580, 12215)
    ax.set_ylim(*ylim)
    ax.set_xticks(x_ticks)
    ax.set_yticks(y_ticks)
    ax.set_yticklabels(y_labels)
    ax.tick_params(axis="both", length=4.5, width=1.1, color="#333333", labelcolor="#4D4D4D", labelsize=13.8,
                   bottom=True, left=True, pad=3)
    for spine in ax.spines.values():
        spine.set_color("#333333")
        spine.set_linewidth(1.2)
    ax.set_xlabel("Observation id", fontsize=16, color="black", labelpad=5)
    ax.set_ylabel(ylabel, fontsize=16, color="black", labelpad=3)


ax_a = add_panel(58.5, 936, 1, 563)
draw_panel(ax_a, dev_pairs, dev_ticks, [str(t) for t in dev_ticks], (-0.5, 25.28), "Observation's deviance")

ax_b = add_panel(1057, 1930, 1, 563)
draw_panel(ax_b, cook_pairs, cook_ticks, [f"{t:.1f}" for t in cook_ticks], (0.016, 0.760), "Observation's Cook's Distance")

for x_px, y_px, caption, size in [
    (19, 687, "(a) Outlier individuals to child birth weight", 33.6),
    (987, 687, "(b) Influence estimates for individual on effects", 33.1),
    (987, 742, "of socio-economic factors on birth weight", 33.6),
]:
    fig.text(x_px / FIG_W, 1 - y_px / FIG_H, caption, family="cmr10", fontsize=size, color="black", va="baseline", ha="left")

fig.savefig("out.png", dpi=100)
plt.close(fig)
